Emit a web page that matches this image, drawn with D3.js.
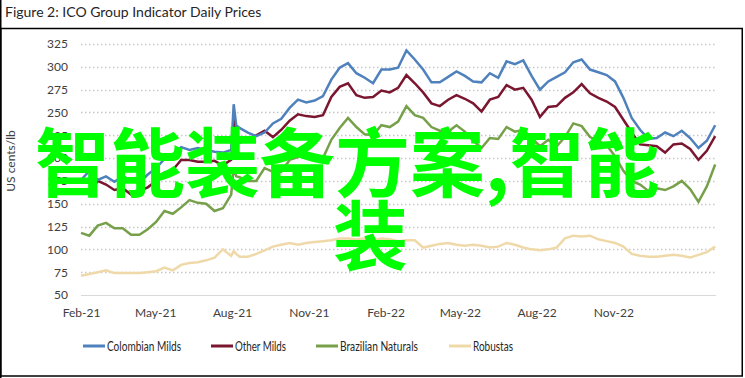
<!DOCTYPE html>
<html><head><meta charset="utf-8">
<script src="https://cdn.jsdelivr.net/npm/d3@7"></script>
<style>
html,body{margin:0;padding:0;background:#fff;}
svg{display:block;}
</style></head>
<body>
<svg id="chart" width="745" height="378"></svg>
<script>
const title = "Figure 2: ICO Group Indicator Daily Prices";
const yAxisTitle = "US cents/lb";
const yTicks = [50,75,100,125,150,175,200,225,250,275,300,325];
const xTickLabels = ["Feb-21","May-21","Aug-21","Nov-21","Feb-22","May-22","Aug-22","Nov-22"];
const xTickDates = ["2021-02-01","2021-05-01","2021-08-01","2021-11-01","2022-02-01","2022-05-01","2022-08-01","2022-11-01"];
const seriesNames = ["Colombian Milds","Other Milds","Brazilian Naturals","Robustas"];
const seriesColors = ["#4f81bd","#7b1630","#77a04a","#efd9a8"];
const overlayLines = ["智能装备方案,智能","装"];

const dates = ["2021-02-01","2021-02-11","2021-02-21","2021-03-03","2021-03-13","2021-03-23","2021-04-02","2021-04-12","2021-04-22","2021-05-02",
"2021-05-12","2021-05-22","2021-06-01","2021-06-11","2021-06-21","2021-07-01","2021-07-11","2021-07-21","2021-07-31","2021-08-03","2021-08-06",
"2021-08-10","2021-08-20","2021-08-30","2021-09-09","2021-09-19","2021-09-29","2021-10-09","2021-10-19","2021-10-29","2021-11-08",
"2021-11-18","2021-11-28","2021-12-08","2021-12-18","2021-12-28","2022-01-07","2022-01-17","2022-01-27","2022-02-06","2022-02-16",
"2022-02-26","2022-03-08","2022-03-18","2022-03-28","2022-04-07","2022-04-17","2022-04-27","2022-05-07","2022-05-17","2022-05-27",
"2022-06-06","2022-06-16","2022-06-26","2022-07-06","2022-07-16","2022-07-26","2022-08-05","2022-08-15","2022-08-25","2022-09-04",
"2022-09-14","2022-09-24","2022-10-04","2022-10-14","2022-10-24","2022-11-03","2022-11-13","2022-11-23","2022-12-03","2022-12-13",
"2022-12-23","2023-01-02","2023-01-12","2023-01-22","2023-02-01","2023-02-11","2023-02-21","2023-03-03"];

const colombianMilds = [176,186,176,180,174,180,176,173,182,189,
199,202,212,209,211,209,207,206,209,259,236,
233,228,224,228,238,243,255,264,261,263,
268,286,299,304,293,288,282,297,297,299,
318,308,297,283,283,289,295,290,284,283,
293,288,306,303,307,290,275,284,289,294,
305,308,297,294,291,284,266,244,231,221,
222,228,224,230,222,211,219,236];

const otherMilds = [163,162,175,171,165,167,160,164,168,175,
184,187,198,198,196,196,197,192,198,244,220,
217,220,225,230,223,231,241,248,246,245,
247,267,278,282,269,266,267,274,272,277,
291,282,272,260,257,264,269,265,260,251,
264,267,280,275,277,264,245,256,257,266,
272,281,271,266,262,256,242,228,215,214,
213,206,215,216,210,198,208,224];

const brazilianNaturals = [118,115,126,129,123,123,116,116,122,130,
142,139,146,154,151,150,142,145,160,190,180,
179,175,175,189,185,185,198,201,205,198,
200,220,233,244,234,226,225,236,234,240,
257,247,244,234,230,229,236,229,219,211,
222,221,234,229,231,222,213,220,213,223,
238,235,223,219,214,202,186,175,171,164,
167,165,169,175,166,152,169,193];

const robustas = [71,73,75,77,74,74,74,74,75,76,
80,77,83,85,86,88,91,100,93,98,95,
92,92,95,99,103,105,107,105,107,108,
109,110,112,112,111,112,110,112,111,109,
110,110,102,104,106,107,105,104,105,104,
102,103,107,105,102,100,99,100,102,112,
115,114,115,111,109,107,103,95,93,92,
92,93,94,93,91,94,97,103];

const seriesValues = [colombianMilds, otherMilds, brazilianNaturals, robustas];

const parse = d3.timeParse("%Y-%m-%d");
const svg = d3.select("#chart");
const W = 745, H = 378;
const plot = {left: 81, right: 716, top: 44, bottom: 295};
const labelFont = "Lato, 'Open Sans', sans-serif";

// frame
svg.append("line").attr("x1",0.75).attr("x2",0.75).attr("y1",0).attr("y2",H).attr("stroke","#000").attr("stroke-width",1.5);
svg.append("rect").attr("x",0.75).attr("y",28.5).attr("width",741.5).attr("height",347.5)
  .attr("fill","none").attr("stroke","#000").attr("stroke-width",1.5);

svg.append("text").attr("x",5).attr("y",17).text(title)
  .attr("font-family",labelFont).attr("font-size",14).attr("fill","#262626");

const x = d3.scaleTime().domain([parse("2021-02-01"), parse("2023-03-04")]).range([plot.left, plot.right]);
const y = d3.scaleLinear().domain([50,325]).range([plot.bottom, plot.top]);

// gridlines
const grid = svg.append("g");
yTicks.forEach(t => {
  grid.append("line").attr("x1",plot.left).attr("x2",plot.right)
    .attr("y1",Math.round(y(t))+0.5).attr("y2",Math.round(y(t))+0.5)
    .attr("stroke", t===50 ? "#d9d9d9" : "#c8c8c8")
    .attr("stroke-width", t===50 ? 1 : 1.3)
    .attr("stroke-dasharray", t===50 ? null : "1.5,2.5");
});

// y axis
const yAxis = d3.axisLeft(y).tickValues(yTicks).tickSize(0).tickPadding(0);
const yg = svg.append("g").attr("transform",`translate(${plot.left-13},0)`).call(yAxis);
yg.select(".domain").remove();
yg.selectAll("text").attr("font-family",labelFont).attr("font-size",12).attr("fill","#404040");

// x axis
const xAxis = d3.axisBottom(x).tickValues(xTickDates.map(parse)).tickSize(0).tickPadding(0)
  .tickFormat((d,i)=>xTickLabels[i]);
const xg = svg.append("g").attr("transform",`translate(0,${plot.bottom+13})`).call(xAxis);
xg.select(".domain").remove();
xg.selectAll("text").attr("font-family",labelFont).attr("font-size",12).attr("fill","#404040");

// y title
svg.append("text").attr("transform","translate(15,161) rotate(-90)").attr("text-anchor","middle")
  .attr("font-family",labelFont).attr("font-size",12).attr("fill","#404040").text(yAxisTitle);

// lines
const line = d3.line().x((d,i)=>x(parse(dates[i]))).y(d=>y(d)).curve(d3.curveLinear);
[3,2,1,0].forEach(k => {
  svg.append("path").datum(seriesValues[k]).attr("d",line)
    .attr("fill","none").attr("stroke",seriesColors[k]).attr("stroke-width",2.5)
    .attr("stroke-linejoin","miter").attr("stroke-miterlimit",3);
});

// legend
const legendX = [83,211,316,449];
const legendW = [74,51,78,40];
const lg = svg.append("g");
seriesNames.forEach((n,i)=>{
  lg.append("line").attr("x1",legendX[i]).attr("x2",legendX[i]+22).attr("y1",346).attr("y2",346)
    .attr("stroke",seriesColors[i]).attr("stroke-width",3);
  lg.append("text").attr("x",legendX[i]+24).attr("y",350.5).text(n)
    .attr("textLength",legendW[i]).attr("lengthAdjust","spacingAndGlyphs")
    .attr("font-family",labelFont)
    .attr("font-size",13.5).attr("fill","#262626");
});

// overlay watermark text
const ov = svg.append("g").attr("font-family","'Noto Sans CJK SC', sans-serif").attr("font-weight",700)
  .attr("font-size",75).attr("fill","#00ff00");
ov.append("text").attr("x",35).attr("y",191).text(overlayLines[0]);
ov.append("text").attr("x",333).attr("y",264).text(overlayLines[1]);
</script>
</body></html>
